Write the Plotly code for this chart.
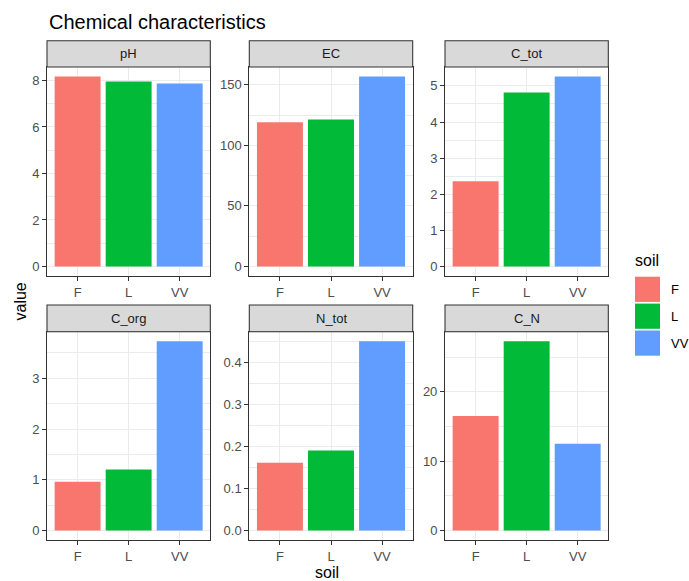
import plotly.graph_objects as go

# ---------------- data ----------------
soils = ["F", "L", "VV"]
soil_colors = ["#F8766D", "#00BA38", "#619CFF"]
variables = ["pH", "EC", "C_tot", "C_org", "N_tot", "C_N"]
pH_vals = [8.17, 7.96, 7.87]
EC_vals = [119.0, 121.4, 156.8]
C_tot_vals = [2.36, 4.82, 5.26]
C_org_vals = [0.96, 1.20, 3.73]
N_tot_vals = [0.161, 0.190, 0.450]
C_N_vals = [16.5, 27.3, 12.5]
values = [pH_vals, EC_vals, C_tot_vals, C_org_vals, N_tot_vals, C_N_vals]
y_dticks = [2, 50, 1, 1, 0.1, 10]
y_formats = ["", "", "", "", ".1f", ""]

# ---------------- layout geometry (pixels) ----------------
W, H = 689, 581
col_x = [(47.0, 210.3), (249.3, 412.7), (445.0, 608.3)]
row_strip = [(40.7, 67.0), (305.0, 331.7)]
row_panel = [(67.0, 276.0), (331.7, 540.0)]

def px(x):
    return x / W

def py(y):
    return 1 - y / H

FONT = "Liberation Sans, Arial, Helvetica, sans-serif"
fig = go.Figure()
shapes = []
annotations = []
layout = {}

for i, (var, vals) in enumerate(zip(variables, values)):
    r, c = divmod(i, 3)
    n = i + 1
    xa = "x" if n == 1 else f"x{n}"
    ya = "y" if n == 1 else f"y{n}"
    fig.add_trace(go.Bar(
        x=soils, y=vals, xaxis=xa, yaxis=ya,
        marker=dict(color=soil_colors, line=dict(width=0)),
        width=0.9, showlegend=False,
    ))
    vmax = max(max(vals), 0)
    vmin = min(min(vals), 0)
    span = vmax - vmin
    yr = [vmin - 0.05 * span, vmax + 0.05 * span]
    x0, x1 = col_x[c]
    p0, p1 = row_panel[r]
    s0, s1 = row_strip[r]
    common = dict(
        showline=True, mirror=True, linecolor="#333333", linewidth=1.07,
        ticks="outside", ticklen=4, tickwidth=1.07, tickcolor="#333333",
        tickfont=dict(family=FONT, size=13, color="#4d4d4d"),
        showgrid=True, gridcolor="#ebebeb", gridwidth=1.07, zeroline=False,
        fixedrange=True,
    )
    layout["xaxis" if n == 1 else f"xaxis{n}"] = dict(
        common, domain=[px(x0), px(x1)], anchor=ya,
        type="category", range=[-0.6, 2.6],
    )
    layout["yaxis" if n == 1 else f"yaxis{n}"] = dict(
        common, domain=[py(p1), py(p0)], anchor=xa,
        range=yr, tick0=0, dtick=y_dticks[i], tickformat=y_formats[i],
        minor=dict(dtick=y_dticks[i] / 2, tick0=0, showgrid=True,
                   gridcolor="#ebebeb", gridwidth=0.53, ticks=""),
    )
    # strip
    shapes.append(dict(type="rect", xref="paper", yref="paper",
                       x0=px(x0), x1=px(x1), y0=py(s1), y1=py(s0),
                       fillcolor="#d9d9d9", line=dict(color="#333333", width=1.07)))
    annotations.append(dict(text=var, xref="paper", yref="paper",
                            x=px((x0 + x1) / 2), y=py((s0 + s1) / 2),
                            xanchor="center", yanchor="middle", showarrow=False,
                            font=dict(family=FONT, size=13, color="#1a1a1a")))

# title and axis titles
annotations.append(dict(text="Chemical characteristics", xref="paper", yref="paper",
                        x=px(46.5), y=py(21.5), xanchor="left", yanchor="middle",
                        showarrow=False, font=dict(family=FONT, size=20, color="black")))
annotations.append(dict(text="value", xref="paper", yref="paper",
                        x=px(19.5), y=py(302), xanchor="center", yanchor="middle",
                        textangle=-90, showarrow=False,
                        font=dict(family=FONT, size=16, color="black")))
annotations.append(dict(text="soil", xref="paper", yref="paper",
                        x=px(327), y=py(572), xanchor="center", yanchor="middle",
                        showarrow=False, font=dict(family=FONT, size=16, color="black")))

# legend (drawn manually to match ggplot key size)
annotations.append(dict(text="soil", xref="paper", yref="paper",
                        x=px(633), y=py(260), xanchor="left", yanchor="middle",
                        showarrow=False, font=dict(family=FONT, size=16, color="black")))
key_top = 276.7
key_step = 26.9
key_h = 25.2
for k, (s, col) in enumerate(zip(soils, soil_colors)):
    t = key_top + k * key_step
    shapes.append(dict(type="rect", xref="paper", yref="paper",
                       x0=px(635), x1=px(660), y0=py(t + key_h), y1=py(t),
                       fillcolor=col, line=dict(width=0)))
    annotations.append(dict(text=s, xref="paper", yref="paper",
                            x=px(669), y=py(t + key_h / 2), xanchor="left", yanchor="middle",
                            showarrow=False, font=dict(family=FONT, size=13, color="black")))

fig.update_layout(
    **layout,
    width=W, height=H, autosize=False,
    margin=dict(l=0, r=0, t=0, b=0),
    paper_bgcolor="white", plot_bgcolor="white",
    shapes=shapes, annotations=annotations,
    bargap=0.1, showlegend=False,
    font=dict(family=FONT),
)

fig.write_html("out.html")
